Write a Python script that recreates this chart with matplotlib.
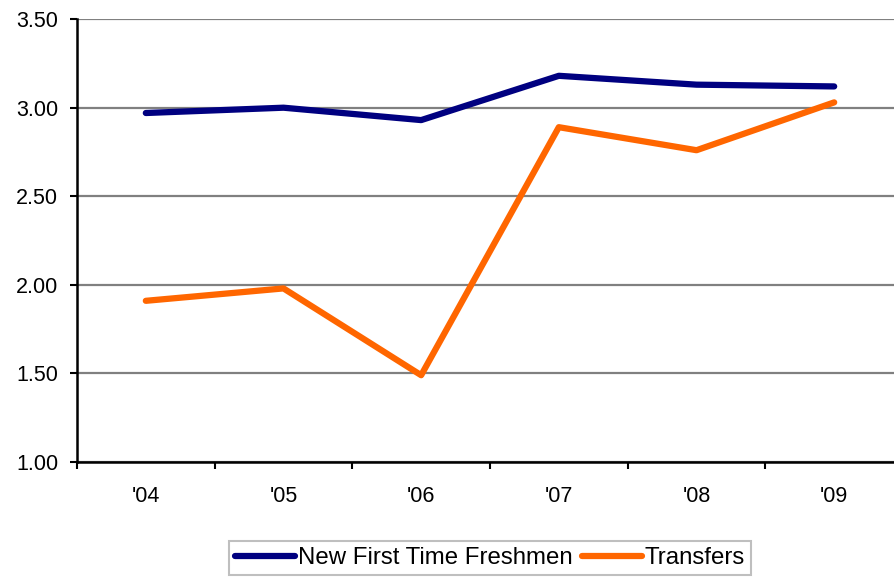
import numpy as np
import matplotlib
matplotlib.use('Agg')
import matplotlib.pyplot as plt

plt.rcParams['font.family'] = ['Liberation Sans', 'DejaVu Sans']

years = ["'04", "'05", "'06", "'07", "'08", "'09"]
freshmen = [2.97, 3.00, 2.93, 3.18, 3.13, 3.12]
transfers = [1.91, 1.98, 1.49, 2.89, 2.76, 3.03]

fig = plt.figure(figsize=(8.94, 5.79), dpi=100)
ax = fig.add_axes([0.0861, 0.202, 0.924, 0.765])

x = np.arange(len(years))
ax.plot(x, freshmen, color='#000080', lw=4.5, solid_capstyle='round', label='New First Time Freshmen', zorder=3)
ax.plot(x, transfers, color='#FF6600', lw=4.5, solid_capstyle='round', label='Transfers', zorder=3)

ax.set_xlim(-0.5, len(years) - 0.5)
ax.set_ylim(1.0, 3.5)
ax.set_yticks(np.arange(1.0, 3.51, 0.5))
ax.set_yticklabels(['%.2f' % v for v in np.arange(1.0, 3.51, 0.5)], fontsize=15.5)
ax.set_xticks(x)
ax.set_xticklabels(years, fontsize=15.5)
ax.set_xticks(np.arange(-0.5, len(years), 1.0), minor=True)
ax.tick_params(axis='x', which='major', length=0, pad=17)
ax.tick_params(axis='x', which='minor', length=5, width=1.5, direction='out')
ax.tick_params(axis='y', length=5, width=1.5, direction='out', pad=8.5)

ax.yaxis.grid(True, color='#808080', lw=1.6)
ax.set_axisbelow(True)
for s in ['top', 'right']:
    ax.spines[s].set_visible(False)
for s in ['left', 'bottom']:
    ax.spines[s].set_linewidth(1.8)
    ax.spines[s].set_zorder(4)

leg = fig.legend(loc='center', bbox_to_anchor=(0.548, 0.036), ncol=2, fontsize=17.3,
                 frameon=True, fancybox=False, handlelength=2.5, handletextpad=0.1,
                 columnspacing=0.4, borderpad=0.25, borderaxespad=0.2)
leg.get_frame().set_edgecolor('#b0b0b0')
leg.get_frame().set_linewidth(1.5)

plt.savefig('out.png', dpi=100)
